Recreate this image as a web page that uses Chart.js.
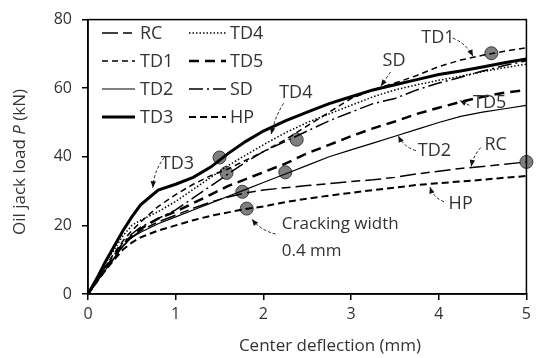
<!DOCTYPE html>
<html>
<head>
<meta charset="utf-8">
<script src="https://cdn.jsdelivr.net/npm/chart.js@4"></script>
<style>
  html, body { margin: 0; padding: 0; background: #fff; }
  #wrap { width: 536px; height: 358px; }
</style>
</head>
<body>
<div id="wrap"><canvas id="chart"></canvas></div>
<script>
// center deflection grid (mm) shared by all specimens
const deflection = [0, 0.1, 0.2, 0.3, 0.4, 0.5, 0.6, 0.8, 1.0, 1.2, 1.4, 1.6, 1.8, 2.0, 2.25, 2.5, 2.75, 3.0, 3.25, 3.5, 3.75, 4.0, 4.25, 4.5, 4.75, 5.0];

// oil jack load (kN)
const loadRC  = [0, 3.5, 7, 10.5, 14, 16.5, 18.5, 21, 23, 25, 26.8, 28.3, 29.5, 30.3, 31, 31.6, 32.2, 32.8, 33.3, 34, 35, 35.8, 36.6, 37.2, 37.8, 38.5];
const loadTD1 = [0, 4, 8, 12, 15.5, 18.5, 21, 25.5, 29, 32, 34.5, 36.5, 39, 41.5, 45, 49, 53, 57, 59.5, 61.5, 63.7, 66.3, 68.2, 69.6, 70.8, 71.8];
const loadTD2 = [0, 3.5, 7, 10.5, 14, 16.5, 18, 20.5, 22.5, 24.5, 26.5, 28.5, 30.5, 32.5, 35, 37.5, 40, 42, 44, 46, 48, 50, 51.8, 53, 54, 55];
const loadTD3 = [0, 4.5, 9.5, 14, 18.5, 22.5, 26, 30.3, 32, 34, 37, 41, 44.5, 47.5, 50.5, 53, 55.5, 57.5, 59.5, 61, 62.5, 64, 65, 66.2, 67.4, 68.5];
const loadTD4 = [0, 4.5, 9, 13, 17, 20, 21.5, 24, 27, 30.5, 34, 37.5, 40.5, 43.5, 47, 50, 52.5, 55, 57.5, 59.5, 61, 62.3, 63.5, 64.8, 66, 67];
const loadTD5 = [0, 4, 7.5, 11, 14.5, 17, 19, 22, 24, 26.5, 29, 31.5, 33.5, 35.5, 38, 41, 43.5, 46, 48.3, 50.3, 52.5, 54.3, 56, 57.5, 58.7, 59.5];
const loadSD  = [0, 4, 8, 11.5, 15, 17.5, 19.5, 22, 24.5, 28, 31.5, 35, 38.5, 41.5, 44.5, 47.5, 50.5, 53, 55.5, 57, 59.5, 61.5, 63.2, 65, 66.6, 68];
const loadHP  = [0, 3.5, 7, 10, 13, 15, 16.5, 18.5, 20, 21.5, 22.8, 23.8, 24.8, 25.5, 26.8, 27.8, 28.7, 29.5, 30.3, 31, 31.8, 32.3, 32.8, 33.3, 33.9, 34.4];

// points where crack width reached 0.4 mm
const crackX = [1.5, 1.58, 2.38, 1.76, 2.25, 1.81, 5.0, 4.6];
const crackY = [39.8, 35.3, 45, 29.8, 35.5, 24.9, 38.5, 70.2];

const xTicks = [0, 1, 2, 3, 4, 5];
const yTicks = [0, 20, 40, 60, 80];

// curve labels with leader arrows (data units)
const noteText = ['TD1', 'SD', 'TD4', 'TD5', 'TD2', 'RC', 'HP', 'TD3'];
const noteX    = [3.99, 3.49, 2.37, 4.58, 3.95, 4.65, 4.25, 1.02];
const noteY    = [74.8, 67.9, 58.5, 55.6, 41.8, 43.6, 26.4, 37.8];
const arrowFrom = [[4.16, 74.6], [3.45, 64.7], [2.23, 55.6], [4.35, 55.0], [3.74, 41.8], [4.48, 42.7], [4.06, 26.9], [0.87, 39.8], [2.14, 17.5]];
const arrowTo   = [[4.39, 69.3], [3.34, 60.6], [2.09, 46.6], [4.24, 56.4], [3.54, 46.1], [4.37, 37.2], [3.90, 31.2], [0.74, 31.0], [1.87, 21.8]];
const arrowBend = [-5, 0, 3, 0, -5, 3, -5, 5, -5];

const FONT = '"Open Sans", Lato, sans-serif';
const INK = '#333';

function pts(load) {
    return deflection.map((d, i) => ({ x: d, y: load[i] }));
}

function series(label, load, width, dash) {
    return {
        label: label,
        data: pts(load),
        borderColor: '#000',
        borderWidth: width,
        borderDash: dash,
        pointRadius: 0,
        fill: false,
        tension: 0
    };
}

const datasets = [
    series('RC', loadRC, 1.5, [16, 5, 9, 5]),
    series('TD1', loadTD1, 1.5, [6, 4]),
    series('TD2', loadTD2, 1.2, []),
    series('TD3', loadTD3, 3, []),
    series('TD4', loadTD4, 1.5, [1.5, 2]),
    series('TD5', loadTD5, 2.5, [10, 6]),
    series('SD', loadSD, 1.5, [14, 4, 2, 4]),
    series('HP', loadHP, 2, [7, 4]),
    {
        label: 'crack',
        data: crackX.map((x, i) => ({ x: x, y: crackY[i] })),
        showLine: false,
        pointRadius: 6.5,
        pointBackgroundColor: '#7f7f7f',
        pointBorderColor: '#3a3a3a',
        pointBorderWidth: 1,
        clip: false
    }
];

// box around the plot area
const framePlugin = {
    id: 'frame',
    afterDraw(chart) {
        const a = chart.chartArea, ctx = chart.ctx;
        ctx.save();
        ctx.strokeStyle = '#000';
        ctx.lineWidth = 1.5;
        ctx.strokeRect(a.left, a.top, a.right - a.left, a.bottom - a.top);
        ctx.restore();
    }
};

// axis titles (y title has an italic P)
const titlePlugin = {
    id: 'titles',
    afterDraw(chart) {
        const ctx = chart.ctx;
        ctx.save();
        ctx.fillStyle = INK;
        ctx.textBaseline = 'middle';
        ctx.font = '17px ' + FONT;
        ctx.textAlign = 'center';
        ctx.fillText('Center deflection (mm)', 330, 346);

        const parts = [['Oil jack load ', ''], ['P', 'italic '], [' (kN)', '']];
        let total = 0;
        parts.forEach(p => { ctx.font = p[1] + '17px ' + FONT; total += ctx.measureText(p[0]).width; });
        ctx.translate(20, 162);
        ctx.rotate(-Math.PI / 2);
        ctx.textAlign = 'left';
        let x = -total / 2;
        parts.forEach(p => {
            ctx.font = p[1] + '17px ' + FONT;
            ctx.fillText(p[0], x, 0);
            x += ctx.measureText(p[0]).width;
        });
        ctx.restore();
    }
};

// two-column legend inside the plot
const legendPlugin = {
    id: 'boxLegend',
    afterDraw(chart) {
        const ctx = chart.ctx;
        const rowsY = [33, 61, 89, 117];
        const cols = [[102, 135, 140], [189, 226, 230]];
        ctx.save();
        ctx.font = '18px ' + FONT;
        ctx.textBaseline = 'middle';
        ctx.textAlign = 'left';
        for (let i = 0; i < 8; i++) {
            const ds = chart.data.datasets[i];
            const c = cols[Math.floor(i / 4)], y = rowsY[i % 4];
            ctx.strokeStyle = '#000';
            ctx.lineWidth = ds.borderWidth;
            ctx.setLineDash(ds.borderDash);
            ctx.beginPath();
            ctx.moveTo(c[0], y);
            ctx.lineTo(c[1], y);
            ctx.stroke();
            ctx.setLineDash([]);
            ctx.fillStyle = INK;
            ctx.fillText(ds.label, c[2], y + 1);
        }
        ctx.restore();
    }
};

// curve labels and dashed leader arrows
const notePlugin = {
    id: 'notes',
    afterDatasetsDraw(chart) {
        const ctx = chart.ctx, sx = chart.scales.x, sy = chart.scales.y;
        ctx.save();
        ctx.fillStyle = INK;
        ctx.font = '18px ' + FONT;
        ctx.textAlign = 'center';
        ctx.textBaseline = 'middle';
        noteText.forEach((t, i) => {
            ctx.fillText(t, sx.getPixelForValue(noteX[i]), sy.getPixelForValue(noteY[i]));
        });
        ctx.font = '17px ' + FONT;
        ctx.textAlign = 'left';
        ctx.fillText('Cracking width', sx.getPixelForValue(2.21), sy.getPixelForValue(20.3));
        ctx.fillText('0.4 mm', sx.getPixelForValue(2.21), sy.getPixelForValue(12.6));

        arrowFrom.forEach((f, i) => {
            const x0 = sx.getPixelForValue(f[0]), y0 = sy.getPixelForValue(f[1]);
            const x1 = sx.getPixelForValue(arrowTo[i][0]), y1 = sy.getPixelForValue(arrowTo[i][1]);
            const len = Math.hypot(x1 - x0, y1 - y0);
            const nx = -(y1 - y0) / len, ny = (x1 - x0) / len;
            const cx = (x0 + x1) / 2 + nx * arrowBend[i], cy = (y0 + y1) / 2 + ny * arrowBend[i];
            ctx.strokeStyle = '#222';
            ctx.lineWidth = 1;
            ctx.setLineDash([3, 2]);
            ctx.beginPath();
            ctx.moveTo(x0, y0);
            ctx.quadraticCurveTo(cx, cy, x1, y1);
            ctx.stroke();
            ctx.setLineDash([]);
            const ang = Math.atan2(y1 - cy, x1 - cx);
            ctx.fillStyle = '#111';
            ctx.beginPath();
            ctx.moveTo(x1, y1);
            ctx.lineTo(x1 - 7 * Math.cos(ang - 0.4), y1 - 7 * Math.sin(ang - 0.4));
            ctx.lineTo(x1 - 7 * Math.cos(ang + 0.4), y1 - 7 * Math.sin(ang + 0.4));
            ctx.closePath();
            ctx.fill();
        });
        ctx.restore();
    }
};

new Chart(document.getElementById('chart'), {
    type: 'scatter',
    data: { datasets: datasets },
    options: {
        responsive: true,
        maintainAspectRatio: false,
        animation: false,
        showLine: true,
        layout: { padding: { top: 15, right: 7, left: 0, bottom: 0 } },
        plugins: { legend: { display: false }, tooltip: { enabled: false } },
        scales: {
            x: {
                type: 'linear', min: 0, max: 5,
                afterBuildTicks: s => { s.ticks = xTicks.map(v => ({ value: v })); },
                afterFit: s => { s.height = 64; },
                ticks: { color: INK, font: { family: FONT, size: 16 }, padding: 5 },
                grid: { drawOnChartArea: false, drawTicks: true, tickLength: 6, color: '#000', lineWidth: 1.5 },
                border: { display: true, color: '#000', width: 1.5 }
            },
            y: {
                type: 'linear', min: 0, max: 80,
                afterBuildTicks: s => { s.ticks = yTicks.map(v => ({ value: v })); },
                afterFit: s => { s.width = 88; },
                ticks: { color: INK, font: { family: FONT, size: 16 }, padding: 10 },
                grid: { drawOnChartArea: false, drawTicks: true, tickLength: 6, color: '#000', lineWidth: 1.5 },
                border: { display: true, color: '#000', width: 1.5 }
            }
        }
    },
    plugins: [framePlugin, titlePlugin, legendPlugin, notePlugin]
});
</script>
</body>
</html>
